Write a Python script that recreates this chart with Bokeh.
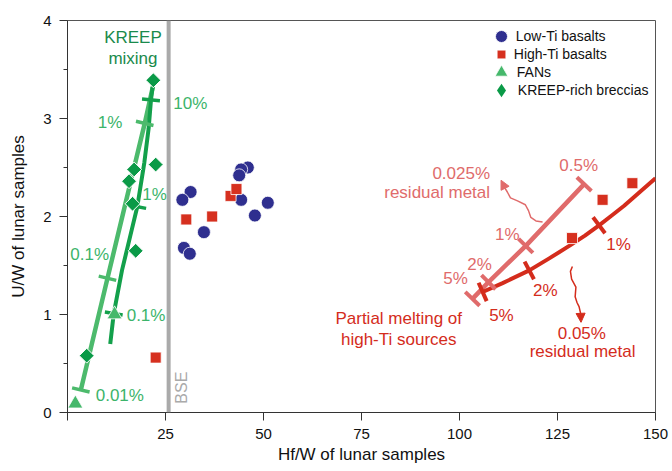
import numpy as np
from bokeh.plotting import figure
from bokeh.models import (FixedTicker, Span, Arrow, NormalHead, Legend, LegendItem, Range1d)
from bokeh.core.properties import value
from bokeh.embed import file_html
from bokeh.resources import INLINE

FONT = "Liberation Sans"

# ---------------- data ----------------
low_ti_x = [31.4, 29.3, 34.8, 29.7, 31.2, 46.0, 44.3, 43.8, 44.3, 47.8, 51.1]
low_ti_y = [2.25, 2.17, 1.84, 1.68, 1.62, 2.50, 2.48, 2.42, 2.17, 2.01, 2.14]
high_ti_x = [30.3, 36.9, 41.6, 43.1, 22.5, 128.7, 136.5, 144.1]
high_ti_y = [1.97, 2.00, 2.21, 2.28, 0.56, 1.78, 2.17, 2.34]
fan_x = [2.0, 12.0]
fan_y = [0.09, 1.00]
kreep_x = [21.9, 22.5, 17.0, 15.7, 16.6, 17.4, 4.9]
kreep_y = [3.39, 2.53, 2.48, 2.36, 2.13, 1.65, 0.58]

# KREEP mixing lines
light_mix_x = [3.4, 10.2, 19.7, 21.8]
light_mix_y = [0.23, 1.37, 2.95, 3.33]
light_mix_tick_x = [3.4, 10.2, 19.7]
light_mix_tick_y = [0.23, 1.37, 2.95]
dark_mix_x = [10.9, 11.8, 13.9, 16.0, 17.8, 19.6, 20.7, 21.3, 21.7]
dark_mix_y = [0.70, 1.01, 1.45, 1.80, 2.10, 2.55, 2.90, 3.19, 3.32]
dark_mix_tick_x = [11.8, 17.8, 21.3]
dark_mix_tick_y = [1.01, 2.10, 3.19]

# partial melting curves
light_red_x = [103.3, 107.4, 116.9, 131.8]
light_red_y = [1.16, 1.33, 1.70, 2.33]
light_red_tick_x = [103.3, 107.4, 116.9, 131.8]
light_red_tick_y = [1.16, 1.33, 1.70, 2.33]
dark_red_x = [105.9, 111.0, 117.8, 123.0, 128.4, 132.0, 135.6, 139.0, 142.0, 146.0, 150.0]
dark_red_y = [1.23, 1.32, 1.45, 1.575, 1.71, 1.805, 1.91, 2.015, 2.11, 2.25, 2.39]
dark_red_tick_x = [105.9, 117.8, 135.6]
dark_red_tick_y = [1.23, 1.45, 1.91]

# wavy arrows
arrow_light_x = [121.2, 119.5, 118.2, 117.6, 116.8, 114.8, 113.0, 112.2, 111.6]
arrow_light_y = [1.945, 1.955, 1.99, 2.06, 2.12, 2.16, 2.19, 2.25, 2.29]
arrow_light_tip = (110.6, 2.37)
arrow_dark_x = [128.8, 128.3, 128.6, 129.7, 129.5, 130.0, 130.5, 130.9]
arrow_dark_y = [1.49, 1.44, 1.36, 1.28, 1.18, 1.12, 1.08, 1.01]
arrow_dark_tip = (131.0, 0.92)

bse_x = 25.8

x_ticks = [0, 25, 50, 75, 100, 125, 150]
y_ticks = [0, 1, 2, 3, 4]
y_minor = [0.5, 1.5, 2.5, 3.5]

legend_labels = ["Low-Ti basalts", "High-Ti basalts", "FANs", "KREEP-rich breccias"]

# colours
BLUE = "#2f2f8f"
RED_SQ = "#d6301f"
DARK_RED = "#d42c1c"
LIGHT_RED = "#e06b6b"
LIGHT_GREEN = "#4cba6c"
DARK_GREEN = "#13a04b"
DIAMOND = "#0a9a47"
TRIANGLE = "#45b86b"
GREEN_TXT = "#3cb46a"
KREEP_TXT = "#1a8a4c"
GRAY = "#aaaaaa"

FRAME_W, FRAME_H = 588, 392
p = figure(width=672, height=471, output_backend="svg", toolbar_location=None,
           x_range=Range1d(0, 150), y_range=Range1d(0, 4),
           min_border_left=67, min_border_right=17, min_border_top=20, min_border_bottom=59)
p.xgrid.visible = False
p.ygrid.visible = False
p.outline_line_color = "#555555"
p.outline_line_width = 1

for ax in (p.xaxis[0], p.yaxis[0]):
    ax.axis_line_color = "#333333"
    ax.major_tick_line_color = "#333333"
    ax.minor_tick_line_color = "#333333"
    ax.major_tick_out = 8
    ax.major_tick_in = 0
    ax.minor_tick_out = 4
    ax.minor_tick_in = 0
    ax.major_label_text_font = FONT
    ax.major_label_text_font_size = "15px"
    ax.major_label_text_color = "#111111"
    ax.axis_label_text_font = FONT
    ax.axis_label_text_font_size = "17px"
    ax.axis_label_text_font_style = "normal"
    ax.axis_label_text_color = "#111111"

p.xaxis.ticker = FixedTicker(ticks=x_ticks)
p.xaxis.major_label_overrides = {0: ""}
p.xaxis.major_label_standoff = 8
p.xaxis.axis_label_standoff = 3
p.xaxis.axis_label = "Hf/W of lunar samples"
p.yaxis.ticker = FixedTicker(ticks=y_ticks, minor_ticks=y_minor)
p.yaxis.major_label_standoff = 8
p.yaxis.axis_label_standoff = 12
p.yaxis.axis_label = "U/W of lunar samples"

# BSE line
p.add_layout(Span(location=bse_x, dimension="height", line_color=GRAY, line_width=4))

KX = FRAME_W / 150
KY = FRAME_H / 4


def perp_angles(lx, ly, tx, ty):
    sx = np.array(lx) * KX
    sy = np.array(ly) * KY
    out = []
    for x, y in zip(tx, ty):
        d = (sx - x * KX) ** 2 + (sy - y * KY) ** 2
        i = int(np.argmin(d))
        i0 = max(i - 1, 0)
        i1 = min(i + 1, len(sx) - 1)
        out.append(np.arctan2(sy[i1] - sy[i0], sx[i1] - sx[i0]) + np.pi / 2)
    return out


# lines
p.line(light_mix_x, light_mix_y, line_color=LIGHT_GREEN, line_width=4.5)
p.line(dark_mix_x, dark_mix_y, line_color=DARK_GREEN, line_width=4)
p.scatter(light_mix_tick_x, light_mix_tick_y, marker="dash", size=18, line_width=3.5,
          line_color=LIGHT_GREEN, angle=perp_angles(light_mix_x, light_mix_y, light_mix_tick_x, light_mix_tick_y))
p.scatter(dark_mix_tick_x, dark_mix_tick_y, marker="dash", size=18, line_width=3.5,
          line_color=DARK_GREEN, angle=perp_angles(dark_mix_x, dark_mix_y, dark_mix_tick_x, dark_mix_tick_y))

p.line(light_red_x, light_red_y, line_color=LIGHT_RED, line_width=4.5)
p.line(dark_red_x, dark_red_y, line_color=DARK_RED, line_width=4, line_join="round")
p.scatter(light_red_tick_x, light_red_tick_y, marker="dash", size=20, line_width=4,
          line_color=LIGHT_RED, angle=perp_angles(light_red_x, light_red_y, light_red_tick_x, light_red_tick_y))
p.scatter(dark_red_tick_x, dark_red_tick_y, marker="dash", size=20, line_width=4,
          line_color=DARK_RED, angle=perp_angles(dark_red_x, dark_red_y, dark_red_tick_x, dark_red_tick_y))

# wavy arrows
p.line(arrow_light_x, arrow_light_y, line_color=LIGHT_RED, line_width=1.5)
p.add_layout(Arrow(end=NormalHead(size=9, fill_color=LIGHT_RED, line_color=LIGHT_RED),
                   x_start=arrow_light_x[-1], y_start=arrow_light_y[-1],
                   x_end=arrow_light_tip[0], y_end=arrow_light_tip[1],
                   line_color=LIGHT_RED, line_width=1.5))
p.line(arrow_dark_x, arrow_dark_y, line_color=DARK_RED, line_width=1.5)
p.add_layout(Arrow(end=NormalHead(size=9, fill_color=DARK_RED, line_color=DARK_RED),
                   x_start=arrow_dark_x[-1], y_start=arrow_dark_y[-1],
                   x_end=arrow_dark_tip[0], y_end=arrow_dark_tip[1],
                   line_color=DARK_RED, line_width=1.5))

# data markers
r_low = p.scatter(low_ti_x, low_ti_y, marker="circle", size=13, fill_color=BLUE,
                  line_color="white", line_width=0.8)
r_high = p.scatter(high_ti_x, high_ti_y, marker="square", size=11, fill_color=RED_SQ,
                   line_color="white", line_width=0.8)
r_fan = p.scatter(fan_x, fan_y, marker="triangle", size=15, fill_color=TRIANGLE,
                  line_color="white", line_width=0.8)
# diamond glyph (used for the legend symbol); the rotated squares drawn on top cover it
r_kreep_leg = p.scatter(kreep_x, kreep_y, marker="diamond", size=13, fill_color=DIAMOND,
                        line_color=DIAMOND, line_width=0)
r_kreep = p.scatter(kreep_x, kreep_y, marker="square", size=10.5, angle=np.pi / 4,
                    fill_color=DIAMOND, line_color="white", line_width=1)


def labels(xs, ys, texts, color, align, size="17px"):
    p.text(xs, ys, text=texts, text_color=color, text_align=align, text_baseline="middle",
           text_font=value(FONT), text_font_size=size)


labels([27.0, 19.1, 15.1, 7.2], [3.155, 2.22, 0.99, 0.17], ["10%", "1%", "0.1%", "0.01%"], GREEN_TXT, "left")
labels([14.0, 10.6], [2.96, 1.61], ["1%", "0.1%"], GREEN_TXT, "right")
labels([16.7, 16.7], [3.83, 3.61], ["KREEP", "mixing"], KREEP_TXT, "center")

labels([130.4, 112.2, 105.1, 99.0], [2.52, 1.815, 1.51, 1.37], ["0.5%", "1%", "2%", "5%"], LIGHT_RED, "center")
labels([107.8, 107.8], [2.44, 2.25], ["0.025%", "residual metal"], LIGHT_RED, "right")
labels([140.6, 121.9, 110.7, 131.2, 131.4], [1.71, 1.25, 0.99, 0.805, 0.62],
       ["1%", "2%", "5%", "0.05%", "residual metal"], DARK_RED, "center")
labels([84.5, 84.5], [0.96, 0.745], ["Partial melting of", "high-Ti sources"], DARK_RED, "center")

p.text([29.1], [0.09], text=["BSE"], angle=np.pi / 2, text_color=GRAY, text_align="left",
       text_baseline="middle", text_font=value(FONT), text_font_size="16px")

# legend: one single-entry legend per row so that the symbols can be large
legend_renderers = [r_low, r_high, r_fan, r_kreep_leg]
legend_glyph = [30, 22, 32, 34]
ROW0, PITCH = 15.7, 18.0     # row centres from the top of the frame
GX = 433.8                   # symbol centre from the left of the frame
TX = 447.0                   # text start from the left of the frame
for i, (lab, rend, g) in enumerate(zip(legend_labels, legend_renderers, legend_glyph)):
    c = ROW0 + PITCH * i
    leg = Legend(items=[LegendItem(label=lab, renderers=[rend])],
                 location=(GX - g / 2, FRAME_H - c - g / 2),
                 glyph_width=g, glyph_height=g, label_standoff=int(round(TX - GX - g / 2)),
                 padding=0, margin=0, border_line_alpha=0, background_fill_alpha=0,
                 label_text_font=FONT, label_text_font_size="14px",
                 label_text_color="#111111", label_height=g)
    p.add_layout(leg)

open("out.html", "w").write(file_html(p, INLINE))
